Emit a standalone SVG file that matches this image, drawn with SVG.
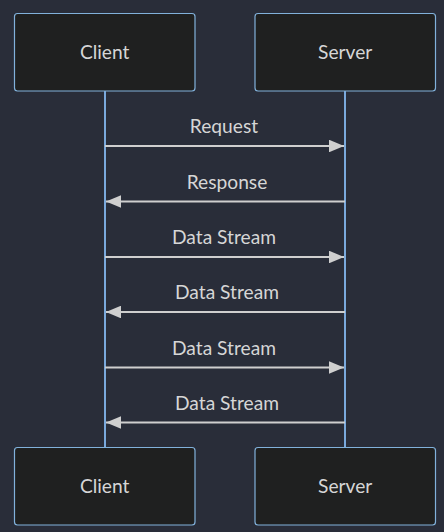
<svg xmlns="http://www.w3.org/2000/svg" width="444" height="532" viewBox="0 0 444 532">
<style>
.bg{fill:#292d39}
.actor{fill:#1f2020;stroke:#81b1db;stroke-width:1.2}
.lt{font-family:Lato,"DejaVu Sans",sans-serif;font-size:19.2px;fill:#d6d6d6;text-anchor:middle}
.life{stroke:#7aa9dc;stroke-width:2;fill:none}
.msg{stroke:#cfcfcf;stroke-width:1.8;fill:none}
</style>
<defs>
<marker id="ah" viewBox="0 0 15 12.6" refX="15" refY="6.3" markerWidth="15" markerHeight="12.6" markerUnits="userSpaceOnUse" orient="auto">
<path d="M0 0 L15 6.3 L0 12.6 z" fill="#cfcfcf"/>
</marker>
</defs>
<rect class="bg" x="0" y="0" width="444" height="532"/>
<g id="lifelines">
<line class="life" x1="105" y1="91" x2="105" y2="447"/>
<line class="life" x1="345" y1="91" x2="345" y2="447"/>
</g>
<g id="client-top"><rect class="actor" x="14.5" y="13.5" width="180.5" height="77.5" rx="3"/><text class="lt" x="104.7" y="59">Client</text></g>
<g id="server-top"><rect class="actor" x="255" y="13.5" width="180.5" height="77.5" rx="3"/><text class="lt" x="345.2" y="59">Server</text></g>
<g id="client-bottom"><rect class="actor" x="14.5" y="447.5" width="180.5" height="77.5" rx="3"/><text class="lt" x="104.7" y="493">Client</text></g>
<g id="server-bottom"><rect class="actor" x="255" y="447.5" width="180.5" height="77.5" rx="3"/><text class="lt" x="345.2" y="493">Server</text></g>
<g id="connectors">
<line class="msg" x1="105" y1="146" x2="344" y2="146" marker-end="url(#ah)"/>
<line class="msg" x1="345" y1="201.5" x2="106" y2="201.5" marker-end="url(#ah)"/>
<line class="msg" x1="105" y1="257" x2="344" y2="257" marker-end="url(#ah)"/>
<line class="msg" x1="345" y1="312" x2="106" y2="312" marker-end="url(#ah)"/>
<line class="msg" x1="105" y1="367.5" x2="344" y2="367.5" marker-end="url(#ah)"/>
<line class="msg" x1="345" y1="422.5" x2="106" y2="422.5" marker-end="url(#ah)"/>
<text class="lt" x="224" y="133.3">Request</text>
<text class="lt" x="227" y="188.8">Response</text>
<text class="lt" x="224" y="244.3">Data Stream</text>
<text class="lt" x="227" y="299.3">Data Stream</text>
<text class="lt" x="224" y="354.8">Data Stream</text>
<text class="lt" x="227" y="409.8">Data Stream</text>
</g>
</svg>
